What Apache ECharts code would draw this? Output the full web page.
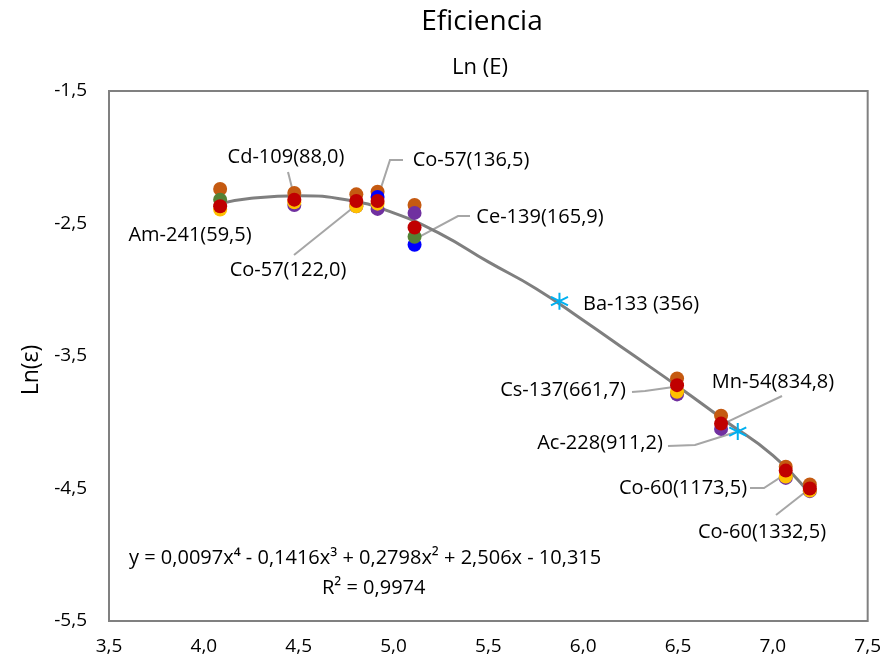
<!DOCTYPE html>
<html>
<head>
<meta charset="utf-8">
<script src="https://cdn.jsdelivr.net/npm/echarts@6/dist/echarts.min.js"></script>
<style>
  html, body { margin: 0; padding: 0; background: #fff; }
  #chart { width: 884px; height: 668px; }
</style>
</head>
<body>
<div id="chart"></div>
<script>
// ln(E) de cada línea gamma
const lnE = [4.086, 4.477, 4.804, 4.916, 5.111, 6.495, 6.727, 7.068, 7.195]

// Ln(eficiencia) por medida (una serie por color)
const serieNaranja = [-2.24, -2.27, -2.28, -2.26, -2.36, -3.67, -3.95, -4.335, -4.47]
const seriePurpura = [null, -2.36, -2.37, -2.39, -2.42, -3.79, -4.05, -4.42, -4.52]
const serieAzul = [null, null, null, -2.30, -2.66, null, null, null, null]
const serieAmarilla = [-2.395, -2.34, -2.37, -2.35, null, -3.77, null, -4.41, -4.515]
const serieVerde = [-2.32, null, null, null, -2.60, null, null, null, null]
const serieRoja = [-2.37, -2.32, -2.33, -2.33, -2.53, -3.72, -4.01, -4.365, -4.50]

// puntos marcados con asterisco (Ba-133, Ac-228)
const asteriscoX = [5.875, 6.815]
const asteriscoY = [-3.086, -4.07]

// línea de tendencia
const tendenciaX = [4.086, 4.25, 4.5, 4.75, 5.0, 5.25, 5.5, 5.75, 6.0, 6.25, 6.5, 6.75, 7.0, 7.195]
const tendenciaY = [-2.35, -2.31, -2.29, -2.32, -2.42, -2.58, -2.79, -2.99, -3.23, -3.48, -3.73, -3.99, -4.25, -4.54]

// etiquetas de las líneas y el punto al que apuntan
const etiquetas = ['Am-241(59,5)', 'Cd-109(88,0)', 'Co-57(136,5)', 'Ce-139(165,9)', 'Co-57(122,0)',
  'Ba-133 (356)', 'Cs-137(661,7)', 'Mn-54(834,8)', 'Ac-228(911,2)', 'Co-60(1173,5)', 'Co-60(1332,5)']
const etiquetaX = [4.086, 4.477, 4.916, 5.111, 4.804, 5.875, 6.495, 6.727, 6.815, 7.068, 7.195]
const etiquetaY = [-2.37, -2.30, -2.31, -2.62, -2.36, -3.086, -3.73, -4.02, -4.07, -4.39, -4.50]

const ecuacion = 'y = 0,0097x\u2074 - 0,1416x\u00b3 + 0,2798x\u00b2 + 2,506x - 10,315'
const r2 = 'R\u00b2 = 0,9974'

// centro del texto de cada etiqueta (px)
const posEtiqueta = [[190, 235], [286, 157], [471, 160], [540, 217], [288, 270],
  [641, 304], [563, 390], [773, 382], [600, 443], [683, 488], [762, 532]]
// trazo de la línea guía desde la etiqueta (px); null = sin guía
const guias = [null, [[288, 172]], [[403, 160], [390, 160]], [[470, 216], [458, 216]], [[294, 255]],
  null, [[632, 392], [645, 391]], [[782, 396]], [[668, 446], [695, 445]], [[750, 488], [764, 488]], [[776, 515]]]

const fuente = 'Open Sans'
const coma = v => v.toFixed(1).replace('.', ',')

function puntos (ys) {
  return lnE.map((x, i) => ys[i] == null ? null : [x, ys[i]]).filter(p => p)
}

function serieDisco (nombre, color, ys) {
  return {
    name: nombre,
    type: 'scatter',
    symbolSize: 14,
    z: 3,
    itemStyle: { color: color, opacity: 1 },
    data: puntos(ys)
  }
}

const chart = echarts.init(document.getElementById('chart'))

chart.setOption({
  animation: false,
  title: [
    { text: 'Eficiencia', left: 477, textAlign: 'center', top: 3, textStyle: { fontFamily: fuente, fontSize: 28, fontWeight: 'normal', color: '#000' } },
    { text: 'Ln (E)', left: 475, textAlign: 'center', top: 52, textStyle: { fontFamily: fuente, fontSize: 22, fontWeight: 'normal', color: '#000' } }
  ],
  grid: {
    left: 109, right: 15, top: 91, bottom: 47,
    show: true, borderColor: '#808080', borderWidth: 2
  },
  xAxis: {
    type: 'value', min: 3.5, max: 7.5, interval: 0.5,
    axisLine: { show: false }, axisTick: { show: false }, splitLine: { show: false },
    axisLabel: { margin: 16, fontFamily: fuente, fontSize: 19, color: '#000', formatter: coma }
  },
  yAxis: {
    type: 'value', min: -5.5, max: -1.5, interval: 1,
    name: 'Ln(\u03b5)', nameLocation: 'middle', nameGap: 66, nameRotate: 90,
    nameTextStyle: { fontFamily: fuente, fontSize: 23, color: '#000', padding: [0, 28, 0, 0] },
    axisLine: { show: false }, axisTick: { show: false }, splitLine: { show: false },
    axisLabel: { margin: 22, fontFamily: fuente, fontSize: 19, color: '#000', formatter: coma }
  },
  series: [
    {
      name: 'tendencia',
      type: 'line',
      smooth: true,
      showSymbol: false,
      z: 2,
      lineStyle: { color: '#7f7f7f', width: 3 },
      data: tendenciaX.map((x, i) => [x, tendenciaY[i]])
    },
    serieDisco('naranja', '#c55a11', serieNaranja),
    serieDisco('purpura', '#7030a0', seriePurpura),
    serieDisco('azul', '#0000ff', serieAzul),
    serieDisco('amarilla', '#ffc000', serieAmarilla),
    serieDisco('verde', '#548235', serieVerde),
    serieDisco('roja', '#c00000', serieRoja),
    {
      name: 'asterisco',
      type: 'scatter',
      symbol: 'path://M0,-10L0,10M-8.66,-5L8.66,5M-8.66,5L8.66,-5',
      symbolSize: 17,
      z: 4,
      itemStyle: { color: 'rgba(0,0,0,0)', borderColor: '#00b0f0', borderWidth: 2, opacity: 1 },
      data: asteriscoX.map((x, i) => [x, asteriscoY[i]])
    },
    {
      name: 'etiquetas',
      type: 'scatter',
      symbolSize: 1,
      z: 5,
      itemStyle: { color: 'rgba(0,0,0,0)', opacity: 1 },
      label: {
        show: true,
        fontFamily: fuente,
        fontSize: 20,
        color: '#000',
        formatter: p => etiquetas[p.dataIndex]
      },
      labelLayout: p => ({
        x: posEtiqueta[p.dataIndex][0],
        y: posEtiqueta[p.dataIndex][1],
        align: 'center',
        verticalAlign: 'middle'
      }),
      data: etiquetaX.map((x, i) => [x, etiquetaY[i]])
    }
  ]
})

// líneas guía: desde la etiqueta hasta el punto medido
const graficos = []
guias.forEach((g, i) => {
  if (!g) return
  const destino = chart.convertToPixel({ gridIndex: 0 }, [etiquetaX[i], etiquetaY[i]])
  graficos.push({
    type: 'polyline',
    z: 2,
    shape: { points: g.concat([destino]) },
    style: { stroke: '#a6a6a6', lineWidth: 2, fill: null }
  })
})
graficos.push(
  { type: 'text', left: 129, top: 548, z: 5, style: { text: ecuacion, font: '20px "Open Sans"', fill: '#000' } },
  { type: 'text', left: 322, top: 578, z: 5, style: { text: r2, font: '20px "Open Sans"', fill: '#000' } }
)
chart.setOption({ graphic: graficos })
</script>
</body>
</html>
